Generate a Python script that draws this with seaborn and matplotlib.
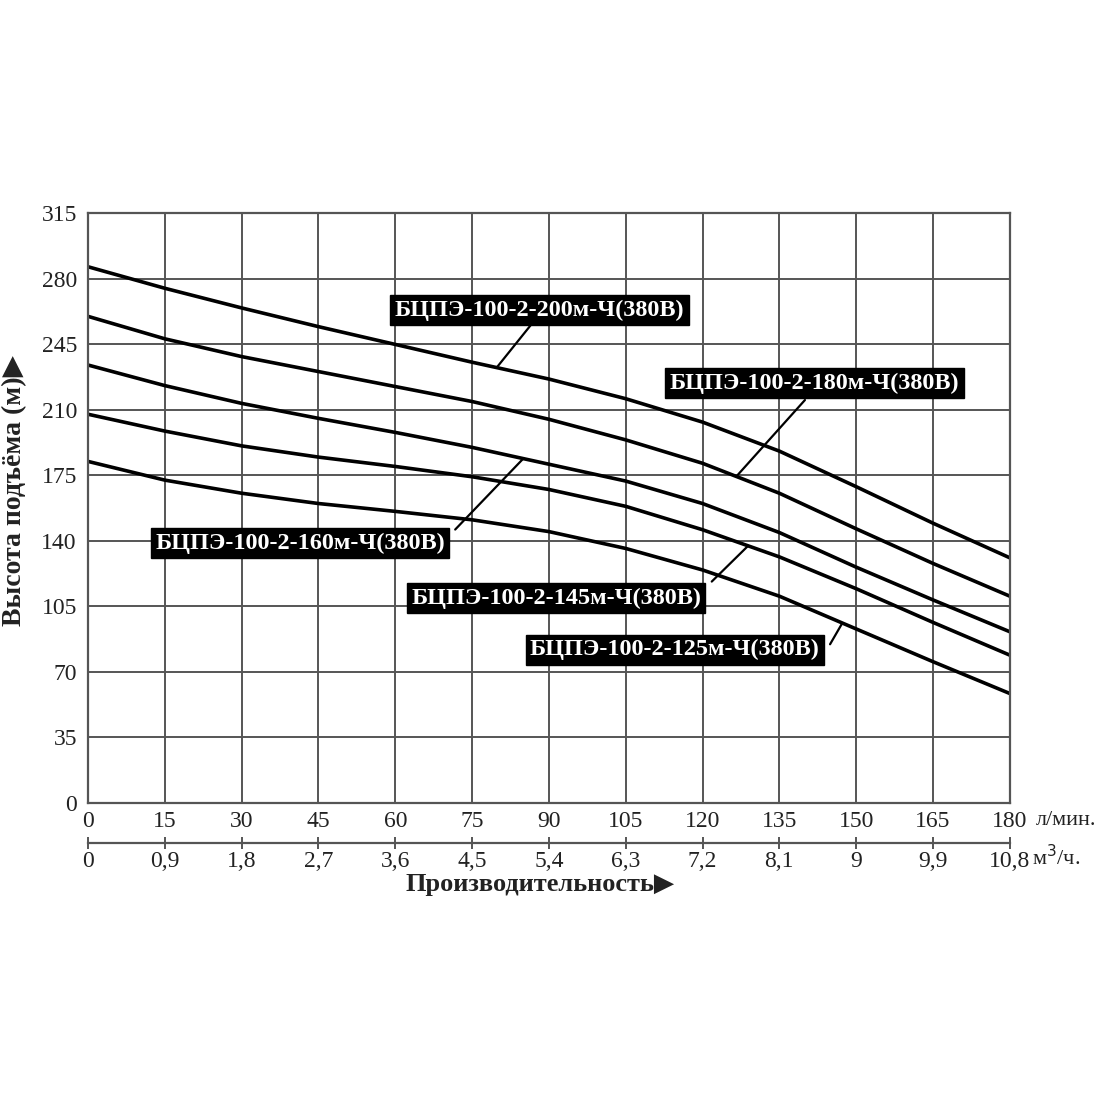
import numpy as np
import pandas as pd
import matplotlib
matplotlib.use('Agg')
import matplotlib.pyplot as plt
import seaborn as sns

# Данные (л/мин -> м)
flow = [0, 15, 30, 45, 60, 75, 90, 105, 120, 135, 150, 165, 180]
head_200 = [286.5, 275, 264.5, 254.5, 245, 235.5, 226.5, 216, 203.5, 188, 169, 149.5, 131]
head_180 = [260, 248, 238.5, 230.5, 222.5, 214.5, 205, 194, 181.5, 165.5, 146.5, 128, 110.5]
head_160 = [234, 223, 213.5, 205.5, 198, 190, 181, 172, 160, 144.5, 126, 108.5, 91.5]
head_145 = [207.7, 198.7, 190.8, 184.8, 179.8, 174.3, 167.5, 158.5, 146, 131.5, 114.5, 96.5, 79]
head_125 = [182.5, 172.5, 165.5, 160, 155.8, 151.3, 145, 136, 124.5, 110.5, 93, 75.5, 58.5]

models = ['БЦПЭ-100-2-200м-Ч(380В)', 'БЦПЭ-100-2-180м-Ч(380В)',
          'БЦПЭ-100-2-160м-Ч(380В)', 'БЦПЭ-100-2-145м-Ч(380В)',
          'БЦПЭ-100-2-125м-Ч(380В)']
heads = [head_200, head_180, head_160, head_145, head_125]

# подписи: центр текста, начало выноски и x точки на кривой
label_xy = [(88.2, 263.3), (141.9, 224.2), (41.4, 138.9), (91.4, 109.3), (114.6, 81.8)]
leader_start = [(86.6, 255.8), (140.0, 215.3), (71.7, 146.1), (121.8, 118.3), (144.9, 84.8)]
leader_end_x = [79.8, 126.6, 85.0, 128.9, 147.3]

xticks_lmin = [0, 15, 30, 45, 60, 75, 90, 105, 120, 135, 150, 165, 180]
xticks_m3h = [0, 0.9, 1.8, 2.7, 3.6, 4.5, 5.4, 6.3, 7.2, 8.1, 9, 9.9, 10.8]
m3h_labels = ['0', '0,9', '1,8', '2,7', '3,6', '4,5', '5,4', '6,3', '7,2', '8,1', '9', '9,9', '10,8']
yticks = [0, 35, 70, 105, 140, 175, 210, 245, 280, 315]

rows = []
for name, h in zip(models, heads):
    for q, v in zip(flow, h):
        rows.append({'model': name, 'q': q, 'h': v})
df = pd.DataFrame(rows)

sns.set_style('white')
serif = ['Liberation Serif', 'DejaVu Sans']
plt.rcParams['font.family'] = serif

fig = plt.figure(figsize=(11, 11), dpi=100)
ax = fig.add_axes([0.08, 0.27, 0.838, 0.536])

grid_c = '#555555'
txt_c = '#222222'
sns.lineplot(data=df, x='q', y='h', units='model', estimator=None,
             color='black', linewidth=2.6, ax=ax, legend=False)

ax.set_xlim(0, 180)
ax.set_ylim(0, 315)
ax.set_xticks(xticks_lmin)
ax.set_yticks(yticks)
ax.grid(True, color=grid_c, linewidth=1.4)
ax.set_axisbelow(True)
for s in ax.spines.values():
    s.set_color(grid_c)
    s.set_linewidth(1.6)
ax.tick_params(axis='both', length=0, labelsize=17, colors=txt_c, pad=6)
ax.tick_params(axis='y', pad=8)
ax.set_xlabel('')
ax.set_ylabel('Высота подъёма (м)▶', fontsize=20, fontweight='bold',
              family=serif, color=txt_c)
ax.yaxis.set_label_coords(-0.066, 0.53)

sec = ax.secondary_xaxis(-0.068, functions=(lambda x: x * 0.06, lambda x: x / 0.06))
sec.set_xticks(xticks_m3h)
sec.set_xticklabels(m3h_labels)
sec.spines['bottom'].set_color(grid_c)
sec.spines['bottom'].set_linewidth(1.6)
sec.tick_params(axis='x', direction='inout', length=8, width=1.4, color=grid_c,
                labelsize=17, labelcolor=txt_c, pad=2)

ax.text(1.028, -0.03, 'л/мин.', transform=ax.transAxes, fontsize=16,
        color=txt_c, va='center', ha='left')
ax.text(1.024, -0.093, 'м$^3$/ч.', transform=ax.transAxes, fontsize=16,
        color=txt_c, va='center', ha='left')
fig.text(540 / 1100, 1 - 885 / 1100, 'Производительность▶', fontsize=19,
         fontweight='bold', family=serif, color=txt_c, ha='center', va='center')

for name, h, (tx, ty), (sx, sy), ex in zip(models, heads, label_xy, leader_start, leader_end_x):
    ey = np.interp(ex, flow, h)
    ax.plot([sx, ex], [sy, ey], color='black', linewidth=1.6, zorder=3)
    ax.text(tx, ty, name, ha='center', va='center', fontsize=17.5, fontweight='bold',
            color='white', zorder=5,
            bbox=dict(boxstyle='square,pad=0.18', facecolor='black', edgecolor='black'))

fig.savefig('out.png', dpi=100, facecolor='white')
